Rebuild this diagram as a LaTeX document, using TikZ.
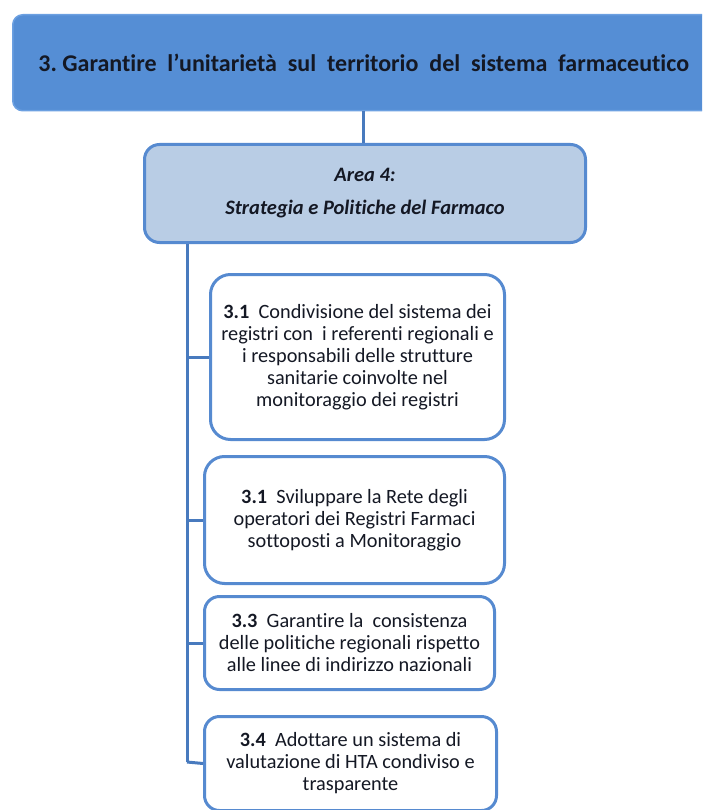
\documentclass[tikz,border=0pt]{standalone}
\usepackage{fontspec}
\setmainfont[Ligatures=NoCommon]{Carlito}
\usetikzlibrary{positioning}
\definecolor{goalfill}{RGB}{85,142,213}
\definecolor{goaledge}{RGB}{108,160,225}
\definecolor{areafill}{RGB}{185,205,229}
\definecolor{boxedge}{RGB}{86,138,208}
\definecolor{linkblue}{RGB}{72,122,190}
\definecolor{inkdark}{RGB}{20,24,36}
\tikzset
{
    goalbox/.style   = {rectangle, rounded corners=10pt, draw=goaledge, line width=1.5pt, fill=goalfill, inner sep=0pt, anchor=north west, align=center, text=inkdark, font=\fontsize{24}{28}\selectfont\bfseries},
    areabox/.style   = {rectangle, rounded corners=15pt, draw=boxedge, line width=3pt, fill=areafill, inner sep=0pt, anchor=north west, align=center, text=inkdark, font=\fontsize{20.5}{24}\selectfont\bfseries\itshape},
    actionbox/.style = {rectangle, rounded corners=20pt, draw=boxedge, line width=3pt, fill=white, inner sep=0pt, anchor=north west, align=center, text=inkdark, font=\fontsize{20.3}{22}\selectfont},
    link/.style      = {draw=linkblue, line width=3pt}
}

\begin{document}
\begin{tikzpicture}[x=1pt, y=-1pt]
   \useasboundingbox (0,0) rectangle (702,810);
   \clip (0,0) rectangle (702,810);

   \node (goal) [goalbox, minimum width=702pt, minimum height=96pt] at (12,14)
        {3.~Garantire~~l'unitarietà~~sul~~territorio~~del~~sistema~~farmaceutico};
   \node (area) [areabox, minimum width=441pt, minimum height=98pt] at (143,143)
        {Area 4:\\[9pt] Strategia e Politiche del Farmaco};

   \node (a1) [actionbox, minimum width=294pt, minimum height=165pt] at (209,273)
        {\textbf{3.1}~ Condivisione del sistema dei\\ registri con~ i referenti regionali e\\ i responsabili delle strutture\\ sanitarie coinvolte nel\\ monitoraggio dei registri};
   \node (a2) [actionbox, minimum width=300pt, minimum height=127pt] at (203,455)
        {\textbf{3.1}~ Sviluppare la Rete degli\\ operatori dei Registri Farmaci\\ sottoposti a Monitoraggio};
   \node (a3) [actionbox, rounded corners=15pt, minimum width=290pt, minimum height=93pt] at (203,595)
        {\textbf{3.3}~ Garantire la~ consistenza\\ delle politiche regionali rispetto\\ alle linee di indirizzo nazionali};
   \node (a4) [actionbox, rounded corners=15pt, minimum width=292pt, minimum height=94pt] at (203,715)
        {\textbf{3.4}~ Adottare un sistema di\\ valutazione di HTA condiviso e\\ trasparente};

   \coordinate (spine) at (187,762);

   \path[link] (goal.south) -- (goal.south |- area.north);
   \path[link] (area.south -| spine) -- (spine);
   \path[link] (a1.west -| spine) -- (a1.west);
   \path[link] (a2.west -| spine) -- (a2.west);
   \path[link] (a3.west -| spine) -- (a3.west);
   \path[link] (spine) -- (a4.west);
\end{tikzpicture}
\end{document}
